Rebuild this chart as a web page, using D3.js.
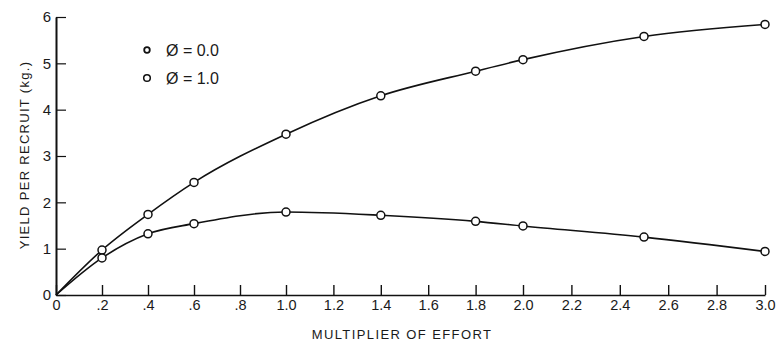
<!DOCTYPE html>
<html>
<head>
<meta charset="utf-8">
<script src="https://cdn.jsdelivr.net/npm/d3@7"></script>
<style>
  body { margin: 0; background: #fff; }
  text { font-family: "Liberation Sans", sans-serif; fill: #1a1a1a; }
</style>
</head>
<body>
<svg id="chart" width="783" height="345"></svg>
<script>
// multiplier of effort
var effort = [0, 0.2, 0.4, 0.6, 1.0, 1.4, 1.8, 2.0, 2.5, 3.0];
// yield per recruit (kg.)
var phi0 = [0, 0.97, 1.74, 2.43, 3.47, 4.30, 4.83, 5.08, 5.58, 5.84];
var phi1 = [0, 0.80, 1.32, 1.54, 1.79, 1.72, 1.59, 1.49, 1.25, 0.94];

var xTicks = [0, 0.2, 0.4, 0.6, 0.8, 1.0, 1.2, 1.4, 1.6, 1.8, 2.0, 2.2, 2.4, 2.6, 2.8, 3.0];
var xTickLabels = ["0", ".2", ".4", ".6", ".8", "1.0", "1.2", "1.4", "1.6", "1.8", "2.0", "2.2", "2.4", "2.6", "2.8", "3.0"];
var yTicks = [0, 1, 2, 3, 4, 5, 6];
var legendLabels = ["\u00d8 = 0.0", "\u00d8 = 1.0"];

var svg = d3.select("#chart");

// the scanned axis is slightly stretched toward the right
var x = d3.scaleLinear()
    .domain([0, 1, 2, 3])
    .range([56, 286, 523, 765]);

var y = d3.scaleLinear()
    .domain([0, 6])
    .range([295, 17]);

var xAxis = d3.axisBottom(x)
    .tickValues(xTicks)
    .tickFormat(function(d, i) { return xTickLabels[i]; })
    .tickSizeInner(-10)
    .tickSizeOuter(0)
    .tickPadding(5);

var yAxis = d3.axisLeft(y)
    .tickValues(yTicks)
    .tickFormat(d3.format("d"))
    .tickSizeInner(-10)
    .tickSizeOuter(0)
    .tickPadding(5);

svg.append("g")
    .attr("transform", "translate(0," + y(0) + ")")
    .call(customXAxis);

svg.append("g")
    .attr("transform", "translate(" + x(0) + ",0)")
    .call(customYAxis);

function customXAxis(g) {
  g.call(xAxis);
  g.select(".domain").attr("stroke", "#111").attr("stroke-width", 1.6);
  g.selectAll(".tick line").attr("stroke", "#111").attr("stroke-width", 1.4);
  g.selectAll(".tick text").attr("font-size", 14.5).attr("fill", "#1a1a1a")
      .attr("font-family", "Liberation Sans");
}

function customYAxis(g) {
  g.call(yAxis);
  g.select(".domain").attr("stroke", "#111").attr("stroke-width", 2);
  g.selectAll(".tick line").attr("stroke", "#111").attr("stroke-width", 1.2);
  g.selectAll(".tick text").attr("font-size", 15).attr("fill", "#1a1a1a")
      .attr("font-family", "Liberation Sans");
}

// axis titles
svg.append("text")
    .attr("x", 402)
    .attr("y", 339)
    .attr("text-anchor", "middle")
    .attr("font-size", 13)
    .attr("letter-spacing", 1.4)
    .text("MULTIPLIER OF EFFORT");

svg.append("text")
    .attr("transform", "translate(29,155) rotate(-90)")
    .attr("text-anchor", "middle")
    .attr("font-size", 13)
    .attr("letter-spacing", 1.3)
    .text("YIELD PER RECRUIT (kg.)");

var line = d3.line()
    .x(function(d) { return x(d[0]); })
    .y(function(d) { return y(d[1]); })
    .curve(d3.curveMonotoneX);

[phi0, phi1].forEach(function(series) {
  var pts = effort.map(function(e, i) { return [e, series[i]]; });

  svg.append("path")
      .datum(pts)
      .attr("fill", "none")
      .attr("stroke", "#111")
      .attr("stroke-width", 1.6)
      .attr("d", line);

  svg.selectAll(null)
      .data(pts.slice(1))
      .enter().append("circle")
      .attr("cx", function(d) { return x(d[0]); })
      .attr("cy", function(d) { return y(d[1]); })
      .attr("r", 4)
      .attr("fill", "#fff")
      .attr("stroke", "#111")
      .attr("stroke-width", 1.5);
});

// legend
var legend = svg.append("g");
legendLabels.forEach(function(lbl, i) {
  var ly = 50 + i * 28;
  legend.append("circle")
      .attr("cx", 147)
      .attr("cy", ly)
      .attr("r", i === 0 ? 2.8 : 3.3)
      .attr("fill", "#fff")
      .attr("stroke", "#111")
      .attr("stroke-width", i === 0 ? 1.8 : 1.5);
  legend.append("text")
      .attr("x", 166)
      .attr("y", ly + 6)
      .attr("font-size", 16)
      .text(lbl);
});
</script>
</body>
</html>
